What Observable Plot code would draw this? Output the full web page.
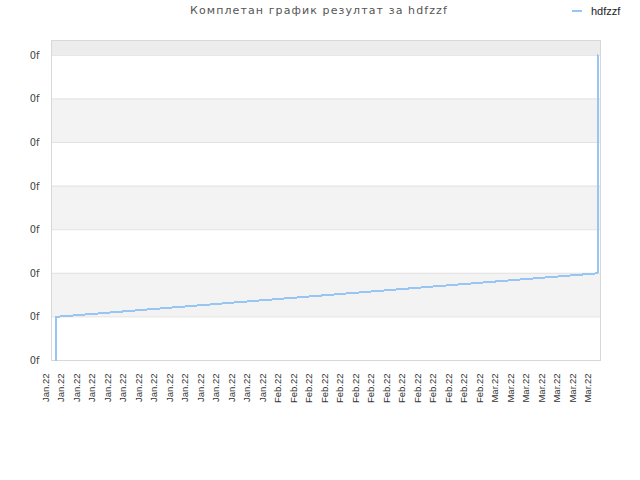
<!DOCTYPE html>
<html>
<head>
<meta charset="utf-8">
<script src="https://cdn.jsdelivr.net/npm/d3@7"></script>
<script src="https://cdn.jsdelivr.net/npm/@observablehq/plot@0.6"></script>
<style>
  html, body { margin: 0; padding: 0; background: #fff; }
  #wrap { position: relative; width: 640px; height: 480px; }
  #title { position: absolute; left: 0; width: 638px; top: 4px; text-align: center;
           font-family: "DejaVu Sans", sans-serif; font-size: 11px; letter-spacing: 1.1px; color: #555; }
  #legend { position: absolute; left: 572px; top: 5px; font-family: "Liberation Sans", Arial, sans-serif;
            font-size: 11px; color: #222; display: flex; align-items: center; }
  #legend .sw { width: 10px; height: 2px; background: #97c6f4; margin-right: 9px; }
  svg { display: block; }
</style>
</head>
<body>
<div id="wrap">
  <div id="chart"></div>
  <div id="title">Комплетан график резултат за hdfzzf</div>
  <div id="legend"><span class="sw"></span><span>hdfzzf</span></div>
</div>
<script>
const seriesName = "hdfzzf";
const xLabels = [
  "Jan.22","Jan.22","Jan.22","Jan.22","Jan.22","Jan.22","Jan.22","Jan.22","Jan.22","Jan.22",
  "Jan.22","Jan.22","Jan.22","Jan.22","Jan.22",
  "Feb.22","Feb.22","Feb.22","Feb.22","Feb.22","Feb.22","Feb.22","Feb.22","Feb.22","Feb.22",
  "Feb.22","Feb.22","Feb.22","Feb.22",
  "Mar.22","Mar.22","Mar.22","Mar.22","Mar.22","Mar.22","Mar.22"
];
const pointIndex = [0, 0, 35, 35];
const pointValue = [0, 1, 2, 7];
const yTicks = [0, 1, 2, 3, 4, 5, 6, 7];
const yTickLabels = ["0f", "0f", "0f", "0f", "0f", "0f", "0f", "0f"];
const bandLow = [1, 3, 5, 7];
const bandHigh = [2, 4, 6, 7.34];
const bandFill = ["#f3f3f3", "#f3f3f3", "#f3f3f3", "#ececec"];

const points = pointIndex.map((x, i) => ({x, y: pointValue[i]}));
const bands = bandLow.map((lo, i) => ({lo, hi: bandHigh[i], fill: bandFill[i]}));

const chart = Plot.plot({
  width: 640,
  height: 480,
  marginLeft: 51,
  marginRight: 40,
  marginTop: 40,
  marginBottom: 120,
  x: {domain: [0, xLabels.length - 1], insetLeft: 4, insetRight: 3, axis: null},
  y: {domain: [0, bandHigh[bandHigh.length - 1]], axis: null},
  style: {fontFamily: "'Liberation Sans', Arial, sans-serif", background: "#fff", overflow: "visible"},
  marks: [
    Plot.rect(bands, {y1: "lo", y2: "hi", fill: d => d.fill}),
    Plot.ruleY(yTicks.slice(1), {stroke: "#e2e2e2", strokeWidth: 1}),
    Plot.frame({stroke: "#d8d8d8"}),
    Plot.line(points, {x: "x", y: "y", stroke: "#97c6f4", strokeWidth: 2, shapeRendering: "crispEdges"}),
    Plot.text(yTicks, {y: d => d, text: (d, i) => yTickLabels[i], frameAnchor: "left", dx: -12,
      textAnchor: "end", fontSize: 11, fill: "#444", fontFamily: "'DejaVu Sans Condensed', 'DejaVu Sans', sans-serif"}),
    Plot.text(xLabels, {x: (d, i) => i, text: d => d, frameAnchor: "bottom", dy: 13, dx: -6.5,
      rotate: -90, textAnchor: "end", fontSize: 9.5, fill: "#333"})
  ]
});
document.getElementById("chart").appendChild(chart);
</script>
</body>
</html>
